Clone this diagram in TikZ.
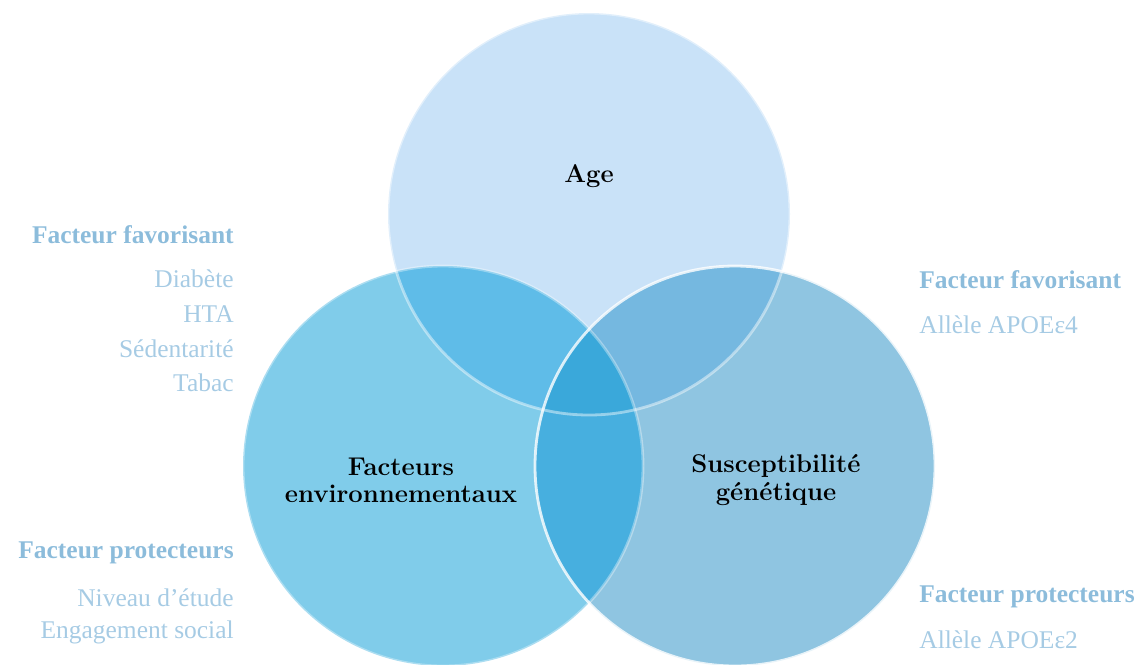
\documentclass[tikz,border=0pt]{standalone}
\usepackage{fontspec}
\newfontfamily\sidefont{Liberation Serif}
\definecolor{ctop}{HTML}{C9E2F8}
\definecolor{cleft}{HTML}{80CCEA}
\definecolor{cright}{HTML}{8FC5E1}
\definecolor{ctl}{HTML}{5FBCE8}
\definecolor{ctr}{HTML}{75B8E0}
\definecolor{clr}{HTML}{47AFDF}
\definecolor{call}{HTML}{3AA8DA}
\definecolor{labbold}{HTML}{8CBCDB}
\definecolor{labreg}{HTML}{A6CBE4}
\tikzset{
  mainlab/.style={font=\fontsize{14.6}{15.5}\selectfont\bfseries, align=center, text=black, inner sep=0pt},
  headlab/.style={font=\sidefont\fontsize{14.5}{16}\selectfont\bfseries, text=labbold, inner sep=0pt},
  itemlab/.style={font=\sidefont\fontsize{14.5}{16}\selectfont, text=labreg, inner sep=0pt},
  rim/.style={draw=white, line width=1.6pt}
}
\begin{document}
\begin{tikzpicture}[x=0.02cm,y=-0.02cm]
\useasboundingbox (0,0) rectangle (1142,664);
\def\top{(589,214) circle (201)}
\def\lft{(443,466) circle (200)}
\def\rgt{(735,466) circle (200)}
\begin{scope}
\clip (0,0) rectangle (1142,664);
\fill[ctop] \top;
\fill[cleft] \lft;
\fill[cright] \rgt;
\begin{scope}\clip \top; \fill[ctl] \lft; \fill[ctr] \rgt;\end{scope}
\begin{scope}\clip \lft; \fill[clr] \rgt;\end{scope}
\begin{scope}\clip \top; \clip \lft; \fill[call] \rgt;\end{scope}
\draw[rim, draw opacity=0.45] \top;
\draw[rim, draw opacity=0.35] \lft;
\draw[rim, draw opacity=0.8] \rgt;
\end{scope}
\node[mainlab] (age) at (589,176) {Age};
\node[mainlab] (env) at (401,480) {Facteurs\\environnementaux};
\node[mainlab] (gen) at (776,480) {Susceptibilité\\génétique};
% left labels
\node[headlab, anchor=east] (lf) at (234,235) {Facteur favorisant};
\node[itemlab, anchor=east] (l1) at (234,279) {Diabète};
\node[itemlab, anchor=east] (l2) at (234,314) {HTA};
\node[itemlab, anchor=east] (l3) at (234,349) {Sédentarité};
\node[itemlab, anchor=east] (l4) at (234,383) {Tabac};
\node[headlab, anchor=east] (lp) at (234,553) {Facteur protecteurs};
\node[itemlab, anchor=east] (l5) at (234,598) {Niveau d’étude};
\node[itemlab, anchor=east] (l6) at (234,632) {Engagement social};
% right labels
\node[headlab, anchor=west] (rf) at (919,280) {Facteur favorisant};
\node[itemlab, anchor=west] (r1) at (919,325) {Allèle APOEε4};
\node[headlab, anchor=west] (rp) at (919,597) {Facteur protecteurs};
\node[itemlab, anchor=west] (r2) at (919,640) {Allèle APOEε2};
\end{tikzpicture}
\end{document}
